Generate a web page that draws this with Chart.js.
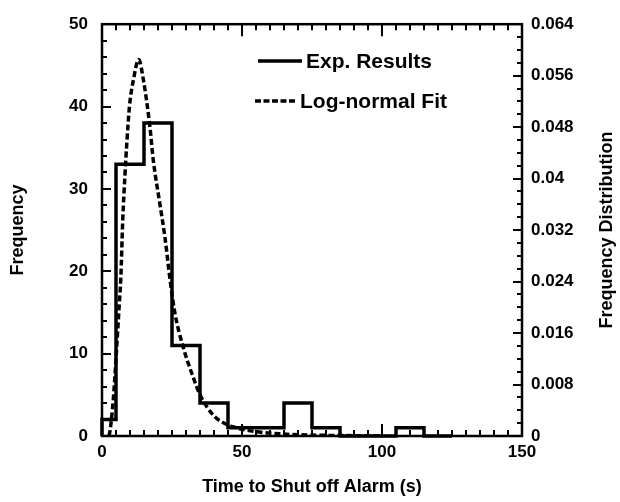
<!DOCTYPE html>
<html>
<head>
<meta charset="utf-8">
<script src="https://cdn.jsdelivr.net/npm/chart.js@4.4.1/dist/chart.umd.min.js"></script>
<style>
html,body{margin:0;padding:0;background:#fff;}
#c{display:block;}
</style>
</head>
<body>
<canvas id="c" width="620" height="502"></canvas>
<script>
// ---- data ----
const binEdges = [0, 5, 15, 25, 35, 45, 55, 65, 75, 85, 95, 105, 115, 125];
const binCounts = [2, 33, 38, 11, 4, 1, 1, 4, 1, 0, 0, 1, 0];
const fitX = [2.5, 2.9, 4.0, 5.0, 6.2, 6.7, 7.4, 8.2, 8.8, 9.8, 11.2, 13.1, 14.8, 17.1, 18.3, 20.7, 22.5, 24.3, 26, 29, 32.6, 35, 39.8, 44, 47, 53, 65, 80, 100];
const fitY = [0, 0.0009, 0.0055, 0.012, 0.0207, 0.0243, 0.0334, 0.0406, 0.0451, 0.0512, 0.0553, 0.0585, 0.0553, 0.0481, 0.0429, 0.036, 0.0308, 0.0243, 0.0192, 0.0138, 0.0091, 0.0064, 0.0032, 0.0019, 0.0014, 0.0008, 0.0003, 0.0001, 0.00003];
const xTicks = [0, 50, 100, 150];
const yTicks = [0, 10, 20, 30, 40, 50];
const y2Ticks = [0, 0.008, 0.016, 0.024, 0.032, 0.04, 0.048, 0.056, 0.064];
const seriesNames = ['Exp. Results', 'Log-normal Fit'];
const xTitle = 'Time to Shut off Alarm (s)';
const yTitle = 'Frequency';
const y2Title = 'Frequency Distribution';

// stepped histogram points: point at a bin's right edge carries that bin's count
const histPoints = [{x: binEdges[0], y: 0}];
for (let i = 0; i < binCounts.length; i++) {
  histPoints.push({x: binEdges[i + 1], y: binCounts[i]});
}
const fitPoints = fitX.map((x, i) => ({x: x, y: fitY[i]}));

const FONT = 'Liberation Sans, Arial, Helvetica, sans-serif';
const tickFont = {family: FONT, size: 17, weight: 'bold'};
const titleFont = {family: FONT, size: 18, weight: 'bold'};

const framePlugin = {
  id: 'frame',
  afterDraw(chart) {
    const ctx = chart.ctx, a = chart.chartArea;
    const xs = chart.scales.x, ys = chart.scales.y, y2 = chart.scales.y2;
    ctx.save();
    ctx.strokeStyle = '#000';
    ctx.lineWidth = 2.5;
    ctx.strokeRect(a.left, a.top, a.right - a.left, a.bottom - a.top);
    ctx.lineWidth = 2;
    ctx.beginPath();
    for (let v = 0; v <= 150; v += 5) {
      const px = Math.round(xs.getPixelForValue(v));
      const len = v % 50 === 0 ? 12 : 6;
      ctx.moveTo(px, a.bottom); ctx.lineTo(px, a.bottom - len);
      ctx.moveTo(px, a.top); ctx.lineTo(px, a.top + len);
    }
    for (let v = 0; v <= 50; v += 2) {
      const py = Math.round(ys.getPixelForValue(v));
      const len = v % 10 === 0 ? 9 : 5;
      ctx.moveTo(a.left, py); ctx.lineTo(a.left + len, py);
    }
    for (let i = 0; i <= 32; i++) {
      const py = Math.round(y2.getPixelForValue(i * 0.002));
      const len = i % 4 === 0 ? 9 : 5;
      ctx.moveTo(a.right, py); ctx.lineTo(a.right - len, py);
    }
    ctx.stroke();

    // right axis title (reads bottom to top)
    ctx.fillStyle = '#000';
    ctx.font = 'bold 18px ' + FONT;
    ctx.textAlign = 'center';
    ctx.textBaseline = 'middle';
    ctx.translate(607, (a.top + a.bottom) / 2);
    ctx.rotate(-Math.PI / 2);
    ctx.fillText(y2Title, 0, 0);
    ctx.restore();

    // legend
    ctx.save();
    ctx.strokeStyle = '#000';
    ctx.fillStyle = '#000';
    ctx.lineWidth = 3.5;
    ctx.font = 'bold 21px ' + FONT;
    ctx.textAlign = 'left';
    ctx.textBaseline = 'middle';
    const rows = [{y: 61, x0: 258, x1: 302, tx: 306, dash: []},
                  {y: 101, x0: 255, x1: 297, tx: 300, dash: [6, 2.5]}];
    rows.forEach((r, i) => {
      ctx.setLineDash(r.dash);
      ctx.beginPath();
      ctx.moveTo(r.x0, r.y); ctx.lineTo(r.x1, r.y);
      ctx.stroke();
      ctx.setLineDash([]);
      ctx.fillText(seriesNames[i], r.tx, r.y + 1);
    });
    ctx.restore();
  }
};

new Chart(document.getElementById('c'), {
  type: 'line',
  data: {
    datasets: [
      {
        label: seriesNames[0],
        data: histPoints,
        yAxisID: 'y',
        stepped: 'after',
        borderColor: '#000',
        borderWidth: 3.5,
        pointRadius: 0,
        fill: false,
        clip: 4
      },
      {
        label: seriesNames[1],
        data: fitPoints,
        yAxisID: 'y2',
        borderColor: '#000',
        borderWidth: 3.5,
        borderDash: [6, 3],
        pointRadius: 0,
        cubicInterpolationMode: 'monotone',
        fill: false
      }
    ]
  },
  options: {
    responsive: false,
    animation: false,
    devicePixelRatio: 1,
    layout: {padding: {top: 16, left: 0, right: 0, bottom: 0}},
    plugins: {legend: {display: false}, tooltip: {enabled: false}},
    scales: {
      x: {
        type: 'linear', min: 0, max: 150,
        afterBuildTicks(s) { s.ticks = xTicks.map(v => ({value: v})); },
        afterFit(s) { s.height = 66; },
        grid: {display: false, drawTicks: false},
        border: {display: false},
        ticks: {font: tickFont, color: '#000', padding: 6, maxRotation: 0},
        title: {display: true, text: xTitle, font: titleFont, color: '#000', padding: 4}
      },
      y: {
        type: 'linear', position: 'left', min: 0, max: 50,
        afterBuildTicks(s) { s.ticks = yTicks.map(v => ({value: v})); },
        afterFit(s) { s.width = 102; },
        grid: {display: false, drawTicks: false},
        border: {display: false},
        ticks: {font: tickFont, color: '#000', padding: 14},
        title: {display: true, text: yTitle, font: titleFont, color: '#000', padding: 7}
      },
      y2: {
        type: 'linear', position: 'right', min: 0, max: 0.064,
        afterBuildTicks(s) { s.ticks = y2Ticks.map(v => ({value: v})); },
        afterFit(s) { s.width = 98; },
        grid: {display: false, drawTicks: false},
        border: {display: false},
        ticks: {font: tickFont, color: '#000', padding: 9,
          callback: v => String(Number(v.toFixed(3)))}
      }
    }
  },
  plugins: [framePlugin]
});
</script>
</body>
</html>
